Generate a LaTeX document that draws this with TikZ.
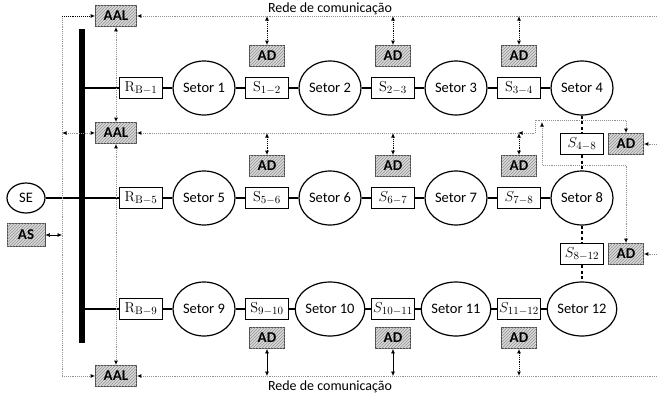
\documentclass[tikz,border=0pt]{standalone}
\usepackage{amsmath}
\usepackage[no-math]{fontspec}
\setmainfont{Carlito}
\usetikzlibrary{
    arrows.meta,
    patterns,
    shapes.geometric,
    positioning,
}
\tikzset{
    setornode/.style={
            ellipse,
            draw,
            line width=1.2pt,
            minimum width=62pt,
            minimum height=54pt,
            inner sep=0pt,
            font=\fontsize{14.5}{16}\selectfont,
        }
}
\tikzset{
    chavenode/.style={
            rectangle,
            draw,
            fill=white,
            line width=1.2pt,
            minimum width=43pt,
            minimum height=21pt,
            inner sep=0pt,
            font=\fontsize{15}{17}\selectfont,
        }
}
\tikzset{
    agentnode/.style={
            rectangle,
            draw=black!70,
            line width=0.8pt,
            fill=gray!30,
            postaction={pattern=north east lines, pattern color=gray!85},
            minimum width=35pt,
            minimum height=21pt,
            inner sep=0pt,
            font=\fontsize{15}{16}\selectfont\bfseries,
        }
}
\tikzset{
    power/.style={line width=2.6pt},
    rede/.style={densely dotted, gray!85, line width=0.9pt},
    comm/.style={densely dotted, line width=0.9pt},
    tip/.style={>={Latex[length=4.5pt,width=4pt,color=black]}},
}
\newcommand{\redetxt}{Rede de comunicação}

\begin{document}
\begin{tikzpicture}[x=1pt, y=-1pt, tip]
    \useasboundingbox (0,0) rectangle (657,394);

    % substation
    \node[
        setornode,
        minimum width=38pt,
        minimum height=30pt,
    ] (SE) at (26,198) {SE};
    \node[
        agentnode,
        minimum width=38pt,
        minimum height=23pt,
    ] (AS) at (26,235) {AS};

    % busbar
    \node[
        fill,
        minimum width=6.5pt,
        minimum height=314pt,
        inner sep=0pt,
    ] (bus) at (82,186) {};

    % sectors
    \foreach \n/\x/\y in {
            1/204/88, 2/330/88, 3/456/88, 4/582/88,
            5/204/198, 6/330/198, 7/456/198, 8/582/198,
            9/204/309, 10/330/309, 11/456/309, 12/582/309
        }
        {
            \node[setornode] (setor\n) at (\x,\y) {Setor \n};
        }

    % breakers and switches
    \foreach \n/\x/\y/\l in {
            RB1/141/88/$\mathrm{R}_{\mathrm{B-1}}$,
            S12/267/88/$\mathrm{S}_{1-2}$,
            S23/393/88/$\mathrm{S}_{2-3}$,
            S34/519/88/$\mathrm{S}_{3-4}$,
            RB5/141/198/$\mathrm{R}_{\mathrm{B-5}}$,
            S56/267/198/$\mathrm{S}_{5-6}$,
            S67/393/198/$S_{6-7}$,
            S78/519/198/$S_{7-8}$,
            RB9/141/309/$\mathrm{R}_{\mathrm{B-9}}$,
            S910/267/309/$\mathrm{S}_{9-10}$,
            S1011/393/309/$S_{10-11}$,
            S1112/519/309/$S_{11-12}$,
            S48/582/144/$S_{4-8}$,
            S812/582/254/$S_{8-12}$
        }
        {
            \node[chavenode] (\n) at (\x,\y) {\l};
        }

    % automation agents
    \foreach \n in {12,23,34,56,67,78} \node[agentnode, above=10pt of S\n] (AD\n) {AD};
    \foreach \n in {910,1011,1112} \node[agentnode, below=7pt of S\n] (AD\n) {AD};
    \node[agentnode, right=4pt of S48] (AD48) {AD};
    \node[agentnode, right=4pt of S812] (AD812) {AD};
    \node[agentnode, minimum width=41pt] (AALt) at (116,16) {AAL};
    \node[agentnode, minimum width=41pt] (AALm) at (116,133) {AAL};
    \node[agentnode, minimum width=41pt] (AALb) at (116,376) {AAL};

    % network labels
    \node[font=\fontsize{14}{16}\selectfont, inner sep=0pt] (redeT) at (330,9) {\redetxt};
    \node[font=\fontsize{14}{16}\selectfont, inner sep=0pt] (redeB) at (330,387) {\redetxt};

    % feeders
    \draw[power] (SE) -- (RB5);
    \draw[power] (bus.center |- RB1) -- (RB1) -- (setor1) -- (S12) -- (setor2) -- (S23) -- (setor3) -- (S34) -- (setor4);
    \draw[power] (RB5) -- (setor5) -- (S56) -- (setor6) -- (S67) -- (setor7) -- (S78) -- (setor8);
    \draw[power] (bus.center |- RB9) -- (RB9) -- (setor9) -- (S910) -- (setor10) -- (S1011) -- (setor11) -- (S1112) -- (setor12);
    \draw[
        power,
        dash pattern=on 3pt off 2.5pt,
    ] (setor4) -- (S48) -- (setor8) -- (S812) -- (setor12);

    % communication network
    \coordinate (netTL) at (62,16);
    \coordinate (netBL) at (62,376);
    \coordinate (netTR) at (657,16);
    \coordinate (netBR) at (657,376);
    \coordinate (netMR) at (518,133);
    \draw[rede] (netTL) -- (netBL);
    \draw[comm, ->] (netTL) -- (AALt);
    \draw[rede, ->] (netTR) -- (AALt);
    \draw[rede, ->] (netBL) -- (AALb);
    \draw[rede, ->] (netBR) -- (AALb);
    \draw[rede, <->] (netTL |- AALm) -- (AALm);
    \draw[rede, ->] (netMR) -- (AALm);
    \draw[rede, <->] (AALt) -- (AALm);
    \draw[rede, <->] (AALm) -- (AALb);
    \draw[<->, line width=0.6pt] (AS) -- (AS -| netTL);

    % agents -> network
    \foreach \n in {12,23,34} \draw[comm, <->] (AD\n |- netTL) -- (AD\n);
    \foreach \n in {56,67,78} \draw[comm, <->] (AD\n |- AALm) -- (AD\n);
    \foreach \n in {910,1011} \draw[<->, line width=0.6pt] (AD\n) -- (AD\n |- netBL);
    \draw[comm, <->] (AD1112) -- (AD1112 |- netBL);

    % tie switches
    \coordinate (J1) at (535,120);
    \coordinate (J2) at (542,122);
    \coordinate (J3) at (542,165);
    \draw[rede, <->] (netMR) -| (J1) -| (AD48);
    \draw[rede, <->] (J2) -- (J3) -| (AD812);
    \draw[rede, ->] (AD48 -| netTR) -- (AD48);
    \draw[rede, ->] (AD812 -| netTR) -- (AD812);
\end{tikzpicture}
\end{document}
